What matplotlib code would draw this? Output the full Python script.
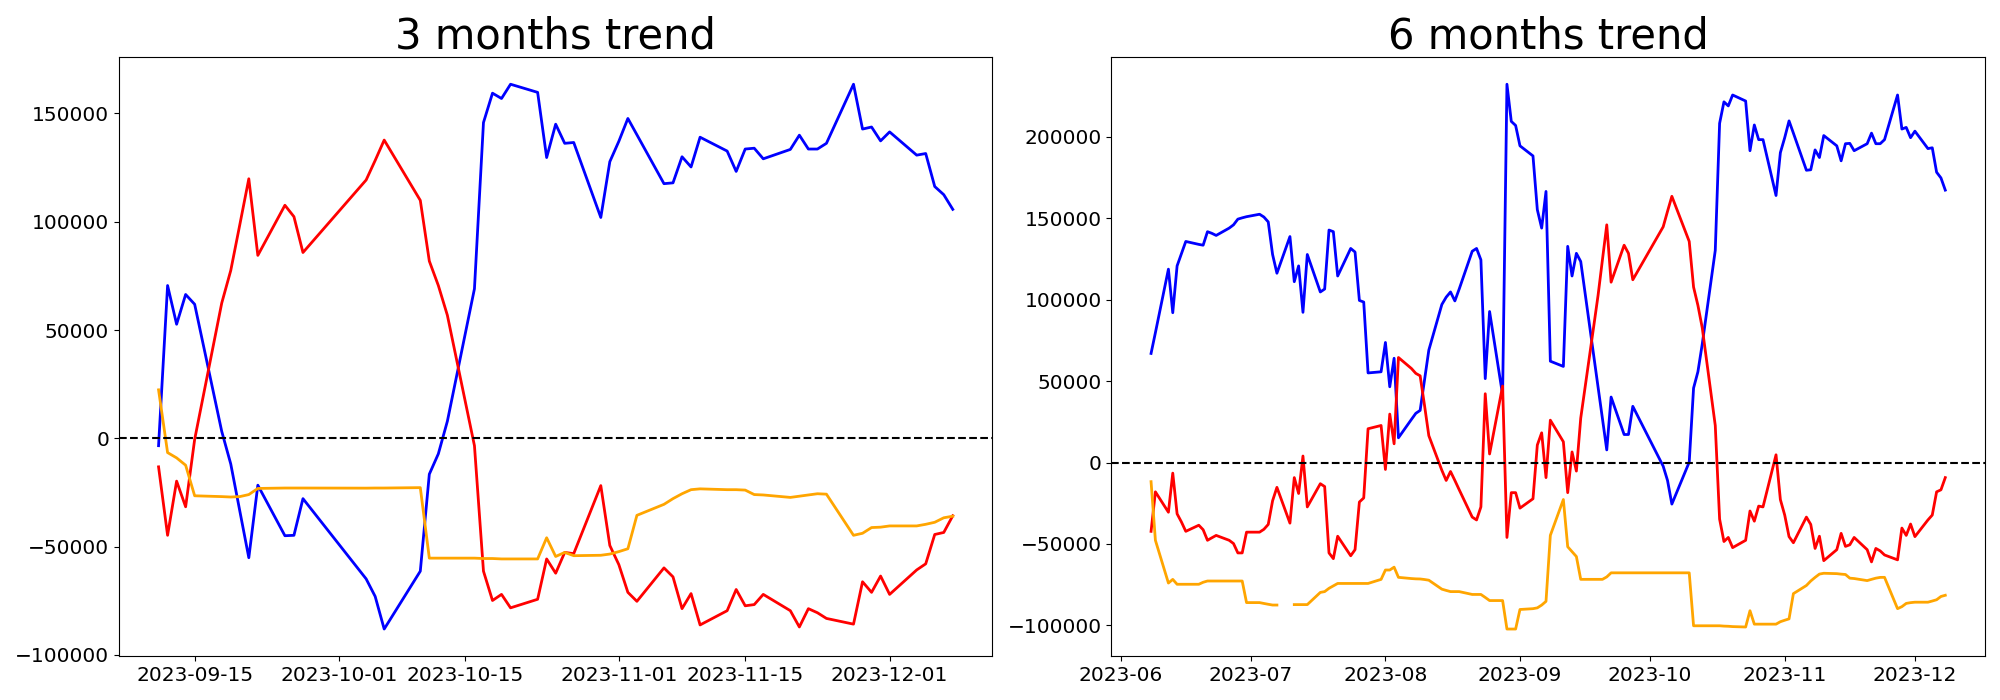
import numpy as np
import pandas as pd
import matplotlib
matplotlib.use("Agg")
import matplotlib.pyplot as plt

# trading days missing from the source (same gap in both windows)
gap_days = ["2023-09-28", "2023-09-29", "2023-10-02", "2023-10-03", "2023-10-09"]

dates_3m = pd.bdate_range("2023-09-11", "2023-12-08").drop(pd.to_datetime(gap_days))
dates_6m = pd.bdate_range("2023-06-08", "2023-12-08").drop(pd.to_datetime(gap_days))

# ---- 3 months ----
blue_3m = [
    -3400, 70560, 52680, 66420, 61900, 3200, -11850, -33500, -55130, -21640, -44970, -44780, -27850,  # Sep
    -64900, -73000, -88060, -61340, -16560, -7150, 7900, 69050, 145800, 159370, 156920, 163500,
    159750, 129650, 145060, 136220, 136600, 101980, 127750,  # Oct
    137160, 147700, 140180, 117590, 117970, 130010, 125300, 139040, 132640, 123240, 133580, 133960,
    129070, 133400, 139980, 133580, 133580, 136220, 163500, 142800, 143750, 137350,  # Nov
    141490, 130760, 131510, 116270, 112500, 105730,  # Dec
]
red_3m = [
    -13170, -44780, -19760, -31610, -500, 62460, 77520, 98600, 119850, 84480, 107620, 102350, 85800,
    119290, 128310, 137720, 109880, 81840, 70560, 56820, -3390, -61340, -74880, -72060, -78270,
    -74320, -55690, -62280, -52680, -53250, -21830, -49480,
    -58330, -71120, -75260, -59830, -63970, -78650, -71690, -86170, -79590, -69800, -77330, -76770,
    -72060, -79590, -87110, -78650, -80530, -83160, -85800, -66230, -71120, -63590,
    -72060, -60770, -57950, -44400, -43460, -35750,
]
orange_3m = [
    22390, -6590, -9030, -12420, -26530, -26910, -27100, -26910, -25970, -23140, -22950, -22950, -22950,
    -23000, -22950, -22950, -22770, -55320, -55320, -55320, -55320, -55500, -55500, -55690, -55690,
    -55690, -45910, -54560, -52680, -54190, -54000, -53440,
    -52310, -50990, -35560, -30480, -27850, -25590, -23710, -23330, -23710, -23710, -23900, -25970,
    -26150, -27280, -26720, -26150, -25590, -25780, -44780, -43840, -41200, -41020,
    -40450, -40450, -39700, -38760, -36690, -35940,
]

# ---- 6 months ----
blue_6m = [
    66970, 79700, 118700, 91960, 120700, 128200, 135700, 133900, 133400, 141700, 140700, 139400,
    143900, 145900, 149400, 150200, 150900,  # Jun
    152400, 150700, 147700, 127700, 116200, 138700, 111000, 120700, 92200, 127700, 104700, 106500,
    142700, 141700, 114500, 131400, 129200, 99500, 98500, 55000, 55700,  # Jul
    73700, 46500, 64000, 15200, 26500, 30200, 32000, 50500, 69000, 97000, 101500, 104700, 99200,
    106500, 129700, 131400, 124400, 51500, 92700, 41500, 232200, 209400, 206900,  # Aug
    194400, 188200, 155200, 143900, 166400, 62200, 59000, 132700, 114500, 128400, 123400, 65500,
    46200, 27000, 7750, 40200, 17200, 17200, 34500,  # Sep
    -2250, -11000, -25500, 250, 45700, 55700, 72700, 130200, 208200, 221400, 218900, 225600,
    221900, 191400, 207200, 198200, 198200, 163900, 190200,  # Oct
    199400, 209700, 202200, 179400, 179700, 191900, 187200, 200700, 194400, 185200, 195700, 195900,
    191400, 195700, 202200, 195700, 195700, 198200, 225600, 204700, 205700, 199400,  # Nov
    203400, 192700, 193200, 178200, 174700, 167200,  # Dec
]
red_6m = [
    -42230, -17990, -30490, -6500, -31490, -36490, -42230, -38480, -41230, -47730, -46200, -44730,
    -47730, -49730, -55480, -55480, -42730,
    -42730, -40980, -37990, -23490, -15240, -37200, -9250, -19000, 4000, -27240, -13000, -14740,
    -55480, -59000, -45230, -57230, -53480, -24240, -21740, 20740, 22740,
    -4250, 29740, 11500, 64470, 57700, 54730, 53230, 35240, 16490, -4750, -11000, -5500, -11000,
    -16700, -33490, -35240, -27240, 42230, 5250, 46980, -45980, -18490, -18490,
    -27990, -22240, 10750, 18240, -9250, 26000, 12750, -18490, 6500, -5250, 27240, 83700,
    102700, 124400, 145900, 110700, 133400, 128400, 112200,
    144700, 154200, 163400, 135700, 107700, 96500, 82700, 22740, -34740, -48480, -45980, -52230,
    -47730, -29740, -35990, -26740, -27240, 4750, -22740,
    -32240, -45480, -49230, -33490, -37990, -52730, -45230, -60230, -53480, -43480, -51480, -50480,
    -45980, -53480, -60980, -52730, -54230, -56730, -59730, -40230, -44730, -37740,
    -45480, -35240, -32240, -17990, -16740, -9250,
]
orange_6m = [
    -11750, -47730, -73970, -71720, -74720, -74720, -74720, -74720, -73500, -72720, -72720, -72720,
    -72720, -72720, -72720, -72720, -85970,
    -85970, -86500, -87000, -87470, -87470, np.nan, -87200, -87200, -87200, -87200, -79720, -79220,
    -77200, -75700, -74220, -74220, -74220, -74220, -74220, -74220, -71720,
    -65970, -65970, -64220, -70470, -71220, -71400, -71470, -71800, -72220, -77720, -78500, -79220,
    -79220, -79220, -80970, -80970, -80970, -82800, -84720, -84720, -102200, -102200, -102200,
    -90200, -89700, -89200, -87500, -85200, -44700, -22700, -51700, -54700, -57700, -71700, -71700,
    -71700, -71700, -70200, -67700, -67700, -67700, -67700,
    -67700, -67700, -67700, -67700, -100200, -100200, -100200, -100200, -100200, -100400, -100500,
    -100700, -100950, -90960, -99200, -99200, -99200, -99200, -97700,
    -96800, -95960, -80470, -75470, -72720, -70500, -68470, -67970, -68200, -68500, -68720, -70970,
    -71200, -72470, -71700, -70970, -70500, -70470, -89700, -88460, -86460, -86000,
    -85720, -85720, -85000, -84220, -82220, -81470,
]

fig, axes = plt.subplots(1, 2, figsize=(20, 7), dpi=100)

panels = [
    (axes[0], "3 months trend", dates_3m, blue_3m, red_3m, orange_3m),
    (axes[1], "6 months trend", dates_6m, blue_6m, red_6m, orange_6m),
]
for ax, title, d, b, r, o in panels:
    ax.plot(d, b, color="blue", linewidth=2)
    ax.plot(d, r, color="red", linewidth=2)
    ax.plot(d, o, color="orange", linewidth=2)
    ax.axhline(0, color="black", linestyle="--", linewidth=1.5)
    ax.set_title(title, fontsize=30)
    ax.tick_params(labelsize=14.5)

plt.tight_layout()
plt.savefig("out.png")
